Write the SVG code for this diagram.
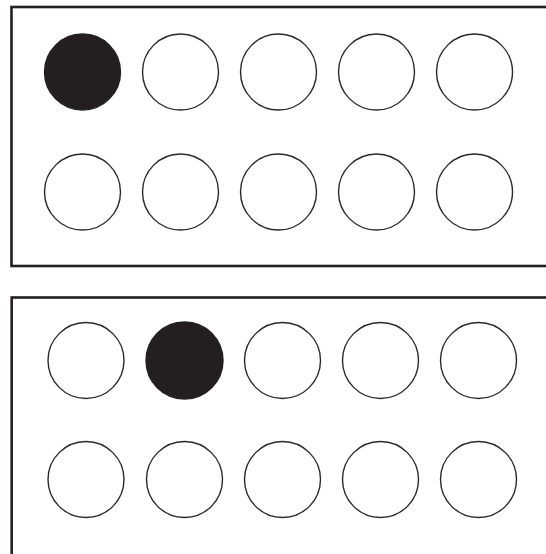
<svg xmlns="http://www.w3.org/2000/svg" width="546" height="554" viewBox="0 0 546 554">
<style>
.panel{fill:#fff;stroke:#231f20;stroke-width:2.6}
.c{fill:#fff;stroke:#2a2a2a;stroke-width:1.4}
.f{fill:#231f20;stroke:#231f20;stroke-width:1.4}
</style>
<rect width="546" height="554" fill="#fff"/>
<g id="panel1">
<rect class="panel" x="11.5" y="7" width="540" height="259"/>
<g id="p1-row1">
<circle class="f" cx="82.5" cy="72" r="38"/>
<circle class="c" cx="180.5" cy="72" r="38"/>
<circle class="c" cx="278.5" cy="72" r="38"/>
<circle class="c" cx="376.5" cy="72" r="38"/>
<circle class="c" cx="474.5" cy="72" r="38"/>
</g>
<g id="p1-row2">
<circle class="c" cx="82.5" cy="192" r="38"/>
<circle class="c" cx="180.5" cy="192" r="38"/>
<circle class="c" cx="278.5" cy="192" r="38"/>
<circle class="c" cx="376.5" cy="192" r="38"/>
<circle class="c" cx="474.5" cy="192" r="38"/>
</g>
</g>
<g id="panel2">
<rect class="panel" x="11.7" y="297.5" width="540" height="270"/>
<g id="p2-row1">
<circle class="c" cx="86" cy="360.5" r="38"/>
<circle class="f" cx="184.5" cy="360.5" r="38.5"/>
<circle class="c" cx="282.5" cy="360.5" r="38"/>
<circle class="c" cx="380.5" cy="360.5" r="38"/>
<circle class="c" cx="478.5" cy="360.5" r="38"/>
</g>
<g id="p2-row2">
<circle class="c" cx="86" cy="479.5" r="38"/>
<circle class="c" cx="184.5" cy="479.5" r="38"/>
<circle class="c" cx="282.5" cy="479.5" r="38"/>
<circle class="c" cx="380.5" cy="479.5" r="38"/>
<circle class="c" cx="478.5" cy="479.5" r="38"/>
</g>
</g>
<g id="connectors"/>
</svg>
